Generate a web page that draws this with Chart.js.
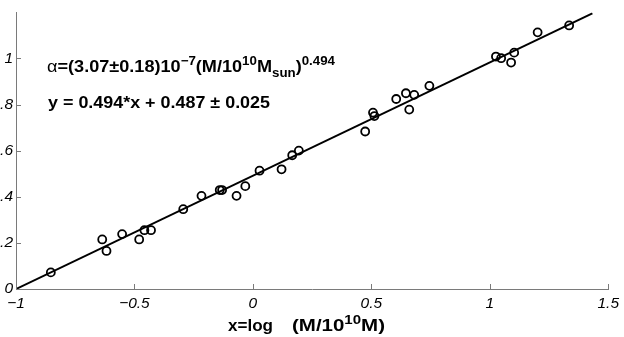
<!DOCTYPE html>
<html lang="en">
<head>
    <meta charset="UTF-8">
    <title>alpha vs log M</title>
    <script src="https://cdn.jsdelivr.net/npm/chart.js"></script>
    <style>
        body { margin: 0; background: #fff; }
        #wrap { width: 624px; height: 337px; }
    </style>
</head>
<body>
    <div id="wrap">
        <canvas id="fit-chart" width="624" height="337"></canvas>
    </div>

    <script>
        const xTicks = [-1, -0.5, 0, 0.5, 1, 1.5];
        const xTickLabels = ['\u22121', '\u22120.5', '0', '0.5', '1', '1.5'];
        const yTicks = [0, 0.2, 0.4, 0.6, 0.8, 1];
        const yTickLabels = ['0', '.2', '.4', '.6', '.8', '1'];

        // measured points
        const pointX = [-0.853, -0.636, -0.618, -0.552, -0.480, -0.458, -0.430, -0.294, -0.217, -0.140,
                        -0.130, -0.069, -0.032, 0.028, 0.121, 0.166, 0.194, 0.474, 0.507, 0.513,
                        0.605, 0.646, 0.660, 0.681, 0.745, 1.026, 1.048, 1.090, 1.103, 1.202, 1.335];
        const pointY = [0.072, 0.215, 0.165, 0.238, 0.215, 0.255, 0.255, 0.346, 0.404, 0.429,
                        0.429, 0.404, 0.446, 0.513, 0.519, 0.580, 0.600, 0.683, 0.765, 0.750,
                        0.824, 0.849, 0.778, 0.842, 0.881, 1.008, 1.001, 0.982, 1.025, 1.113, 1.143];

        // fitted line end points
        const fitX = [-1, 1.433];
        const fitY = [0, 1.195];

        const fontFamily = '"Liberation Sans", Arial, Helvetica, sans-serif';
        const axisGray = '#7a7a7a';

        // text runs: [text, mode, weight]
        const formulaRuns = [
            ['\u03b1', 'n', 'normal'], ['=(3.07\u00b10.18)10', 'n', 'bold'], ['\u22127', 'sup', 'bold'],
            ['(M/10', 'n', 'bold'], ['10', 'sup', 'bold'], ['M', 'n', 'bold'], ['sun', 'sub', 'bold'],
            [')', 'n', 'bold'], ['0.494', 'sup', 'bold']
        ];
        const fitRuns = [['y = 0.494*x + 0.487 \u00b1 0.025', 'n', 'bold']];
        const xTitleLeft = [['x=log', 'n', 'bold']];
        const xTitleRight = [['(M/10', 'n', 'bold'], ['10', 'sup', 'bold'], ['M)', 'n', 'bold']];

        // draws runs from x, squeezed/stretched to the given total width
        function drawRuns(ctx, runs, x, y, width) {
            ctx.save();
            ctx.fillStyle = '#000';
            ctx.textBaseline = 'alphabetic';
            ctx.textAlign = 'left';
            const setFont = (mode, weight) => {
                const size = mode === 'n' ? 17 : 12.5;
                ctx.font = weight + ' ' + size + 'px ' + fontFamily;
            };
            let natural = 0;
            runs.forEach(([text, mode, weight]) => {
                setFont(mode, weight);
                natural += ctx.measureText(text).width;
            });
            ctx.translate(x, y);
            ctx.scale(width / natural, 1);
            let cx = 0;
            runs.forEach(([text, mode, weight]) => {
                setFont(mode, weight);
                const dy = mode === 'sup' ? -7 : (mode === 'sub' ? 5 : 0);
                ctx.fillText(text, cx, dy);
                cx += ctx.measureText(text).width;
            });
            ctx.restore();
        }

        const decorPlugin = {
            id: 'decor',
            afterDraw(chart) {
                const ctx = chart.ctx;
                const xs = chart.scales.x;
                const ys = chart.scales.y;
                const area = chart.chartArea;

                ctx.save();
                ctx.strokeStyle = axisGray;
                ctx.lineWidth = 1;
                ctx.beginPath();
                xTicks.forEach(v => {
                    const px = Math.round(xs.getPixelForValue(v)) + 0.5;
                    ctx.moveTo(px, area.bottom);
                    ctx.lineTo(px, area.bottom - 5);
                });
                yTicks.forEach(v => {
                    const py = Math.round(ys.getPixelForValue(v)) + 0.5;
                    ctx.moveTo(area.left, py);
                    ctx.lineTo(area.left + 5, py);
                });
                ctx.stroke();
                ctx.restore();

                drawRuns(ctx, formulaRuns, 47, 72, 288);
                drawRuns(ctx, fitRuns, 48, 108, 222);
                drawRuns(ctx, xTitleLeft, 228, 331, 45);
                drawRuns(ctx, xTitleRight, 292, 331, 93);
            }
        };

        const ctx = document.getElementById('fit-chart').getContext('2d');
        new Chart(ctx, {
            type: 'scatter',
            data: {
                datasets: [
                    {
                        type: 'line',
                        data: fitX.map((x, i) => ({ x: x, y: fitY[i] })),
                        borderColor: '#000',
                        borderWidth: 2,
                        pointRadius: 0,
                        fill: false,
                        tension: 0
                    },
                    {
                        data: pointX.map((x, i) => ({ x: x, y: pointY[i] })),
                        pointStyle: 'circle',
                        pointRadius: 4,
                        pointBorderWidth: 1.8,
                        pointBorderColor: '#000',
                        pointBackgroundColor: 'rgba(0,0,0,0)',
                        showLine: false
                    }
                ]
            },
            options: {
                responsive: false,
                animation: false,
                devicePixelRatio: 1,
                layout: { padding: { left: 0, right: 12, top: 2, bottom: 0 } },
                plugins: {
                    legend: { display: false },
                    tooltip: { enabled: false }
                },
                scales: {
                    x: {
                        type: 'linear',
                        min: -1,
                        max: 1.5,
                        afterBuildTicks: scale => { scale.ticks = xTicks.map(v => ({ value: v })); },
                        afterFit: scale => { scale.height = 48; },
                        grid: { display: false, drawTicks: false },
                        border: { display: true, color: axisGray, width: 1 },
                        ticks: {
                            color: '#000',
                            padding: 5,
                            maxRotation: 0,
                            autoSkip: false,
                            font: { family: fontFamily, size: 15.5, style: 'italic' },
                            callback: v => xTickLabels[xTicks.indexOf(v)]
                        }
                    },
                    y: {
                        type: 'linear',
                        min: 0,
                        max: 1.2,
                        afterBuildTicks: scale => { scale.ticks = yTicks.map(v => ({ value: v })); },
                        afterFit: scale => { scale.width = 16; },
                        grid: { display: false, drawTicks: false },
                        border: { display: true, color: axisGray, width: 1 },
                        ticks: {
                            color: '#000',
                            padding: 3,
                            autoSkip: false,
                            font: { family: fontFamily, size: 15.5, style: 'italic' },
                            callback: v => yTickLabels[yTicks.indexOf(v)]
                        }
                    }
                }
            },
            plugins: [decorPlugin]
        });
    </script>
</body>
</html>
